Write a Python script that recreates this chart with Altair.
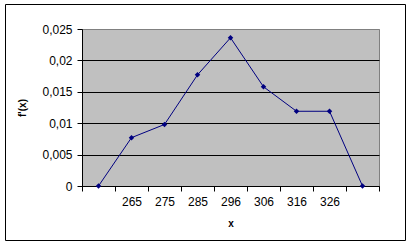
import altair as alt
import pandas as pd

categories = ["", "265", "275", "285", "296", "306", "316", "326", ""]
values = [0.0, 0.0077, 0.0098, 0.0177, 0.0236, 0.0158, 0.0119, 0.0119, 0.0]
y_ticks = [0, 0.005, 0.01, 0.015, 0.02, 0.025]

df = pd.DataFrame({"i": list(range(len(categories))), "cat": categories, "v": values})

W, H = 297, 157
n = len(categories)
band = W / n

label_arr = "[" + ",".join("'%s'" % c for c in categories + [""]) + "]"

x_enc = alt.X(
    "xpos:Q",
    scale=alt.Scale(domain=[0, n], nice=False, zero=False),
    axis=alt.Axis(
        values=list(range(n + 1)),
        labelExpr=label_arr + "[datum.value]",
        labelOffset=band / 2,
        labelFlush=False,
        labelOverlap=False,
        labelBound=False,
        tickSize=5,
        tickColor="black",
        domainColor="black",
        grid=False,
        labelFont="Liberation Sans",
        labelFontSize=12,
        labelColor="black",
        labelPadding=5,
        title="x",
        titleFont="Liberation Sans",
        titleFontSize=10,
        titleFontWeight="bold",
        titleColor="black",
        titleX=W / 2,
        titleY=37,
        titleBaseline="middle",
        titleAnchor="middle",
    ),
)

y_enc = alt.Y(
    "v:Q",
    scale=alt.Scale(domain=[0, 0.025], nice=False),
    axis=alt.Axis(
        values=y_ticks,
        labelExpr="replace(format(datum.value, '.3~f'), '.', ',')",
        labelOverlap=False,
        labelFlush=False,
        tickSize=5,
        tickColor="black",
        domainColor="black",
        grid=True,
        gridColor={"condition": {"test": "datum.value > 0.0249", "value": "#808080"}, "value": "black"},
        gridOpacity=1,
        labelFont="Liberation Sans",
        labelFontSize=12,
        labelColor="black",
        labelPadding=5,
        title="f'(x)",
        titleFont="Liberation Sans",
        titleFontSize=10,
        titleFontWeight="bold",
        titleColor="black",
        titleX=-60,
        titleY=H / 2,
        titleBaseline="middle",
        titleAnchor="middle",
        titleAngle=-90,
    ),
)

base = alt.Chart(df).transform_calculate(xpos="datum.i + 0.5").encode(x=x_enc, y=y_enc)

line = base.mark_line(color="#000080", strokeWidth=1)
pts = base.mark_point(shape="diamond", filled=True, color="#000080", size=30, opacity=1)

frame = alt.Chart(pd.DataFrame({"a": [0]})).mark_rect(
    fill=None, stroke="black", strokeWidth=1, clip=False
).encode(
    x=alt.value(-76.5), x2=alt.value(323.5), y=alt.value(-24.5), y2=alt.value(211.5)
)

chart = (
    alt.layer(line, pts, frame)
    .properties(
        width=W,
        height=H,
        autosize=alt.AutoSizeParams(type="none"),
        padding={"left": 82, "top": 29, "right": 413 - 82 - W, "bottom": 246 - 29 - H},
        background="white",
    )
    .configure_view(fill="#C0C0C0", stroke="#808080", strokeWidth=1)
)

chart.save("out.html", embed_options={"renderer": "svg", "actions": False})
